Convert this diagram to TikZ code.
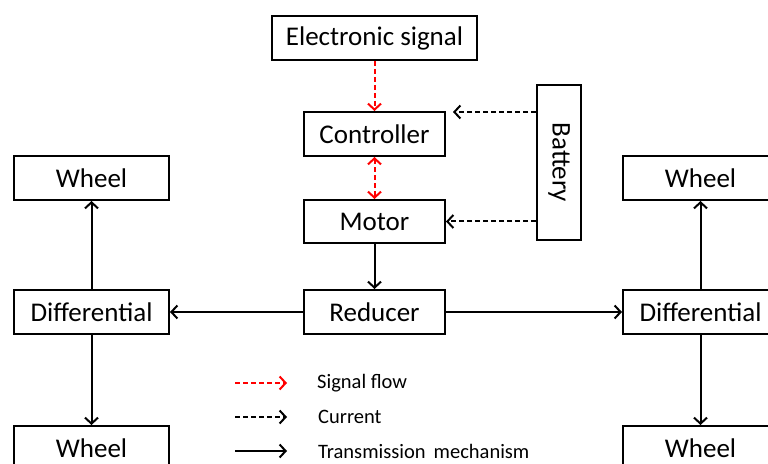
\documentclass[tikz,border=0pt]{standalone}
\usepackage{fontspec}
\setmainfont{Carlito}
\usetikzlibrary{arrows.meta}
\begin{document}
\begin{tikzpicture}[x=1bp,y=-1bp,
  box/.style={draw,line width=2bp,minimum width=141bp,minimum height=44bp,inner sep=0pt,
    font=\fontsize{27bp}{30bp}\selectfont},
  wbox/.style={box,minimum width=155bp},
  tip/.style={-{Straight Barb[length=6bp,width=13bp,line width=2bp]}},
  trans/.style={line width=2bp,tip},
  cur/.style={line width=2bp,tip,dash pattern=on 5bp off 3bp},
  sig/.style={line width=2bp,tip,red,dash pattern=on 5bp off 3bp},
  leg/.style={anchor=west,inner sep=0pt,font=\fontsize{20.5bp}{24bp}\selectfont}]
\useasboundingbox (0,0) rectangle (768,464);
\node[box,minimum width=205bp] (esig) at (374.5,38) {Electronic signal};
\node[box] (ctrl) at (374.5,134) {Controller};
\node[box,minimum height=43bp] (motor) at (374.5,221.5) {Motor};
\node[box] (red) at (374.5,312) {Reducer};
\node[box,minimum width=155bp,minimum height=44bp,rotate=-90] (bat) at (559,162.5) {Battery};
\node[wbox] (lw1) at (91.5,178) {Wheel};
\node[wbox] (ld) at (91.5,312) {Differential};
\node[wbox] (lw2) at (91.5,448) {Wheel};
\node[wbox] (rw1) at (700.5,178) {Wheel};
\node[wbox] (rd) at (700.5,312) {Differential};
\node[wbox] (rw2) at (700.5,448) {Wheel};
\coordinate (c1) at (453,112);
\draw[sig] (esig.south) -- (ctrl.north);
\draw[sig,{Straight Barb[length=6bp,width=13bp,line width=2bp]}-{Straight Barb[length=6bp,width=13bp,line width=2bp]}] (ctrl.south) -- (motor.north);
\draw[cur] (bat.south |- c1) -- (c1);
\draw[cur] (bat.south |- motor.east) -- (motor.east);
\draw[trans] (motor.south) -- (red.north);
\draw[trans] (red.west) -- (ld.east);
\draw[trans] (red.east) -- (rd.west);
\draw[trans] (ld.north) -- (lw1.south);
\draw[trans] (ld.south) -- (lw2.north);
\draw[trans] (rd.north) -- (rw1.south);
\draw[trans] (rd.south) -- (rw2.north);
\coordinate (l1a) at (235,383); \coordinate (l1b) at (287,383);
\coordinate (l2a) at (235,417); \coordinate (l2b) at (287,417);
\coordinate (l3a) at (235,451); \coordinate (l3b) at (287,451);
\draw[sig] (l1a) -- (l1b);
\draw[cur] (l2a) -- (l2b);
\draw[trans] (l3a) -- (l3b);
\node[leg] (t1) at (317,383) {Signal flow};
\node[leg] (t2) at (318,417) {Current};
\node[leg] (t3) at (318,451) {Transmission\, mechanism};
\end{tikzpicture}
\end{document}
